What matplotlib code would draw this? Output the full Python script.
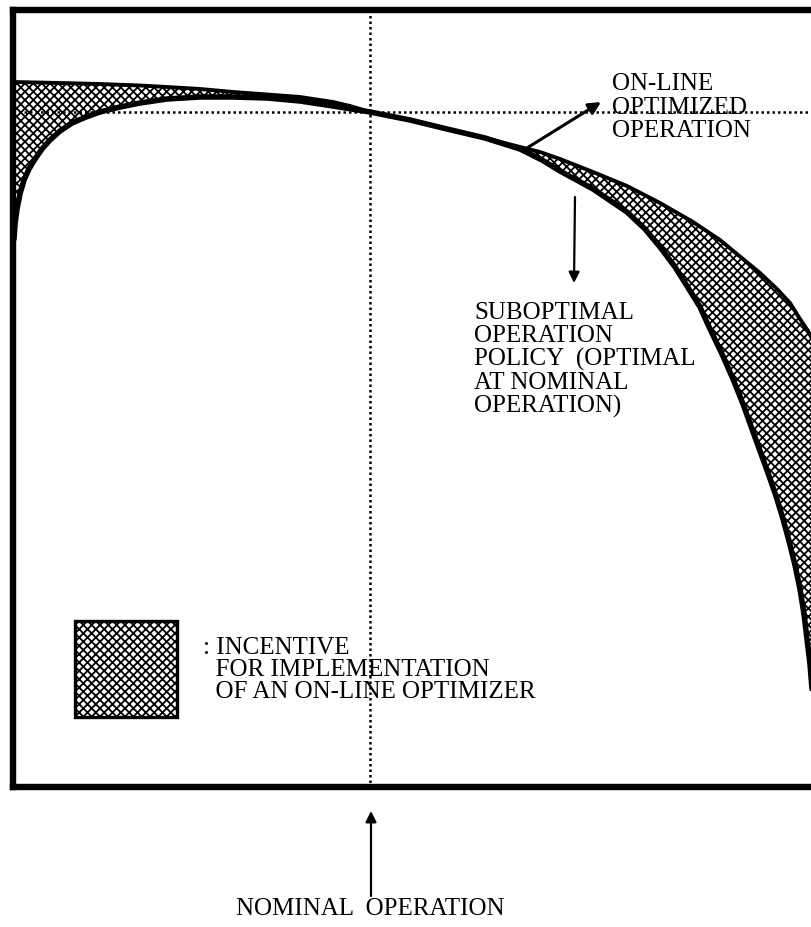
import matplotlib
matplotlib.use("Agg")
import matplotlib.pyplot as plt

plt.rcParams['font.family'] = ['Liberation Serif', 'DejaVu Serif']
plt.rcParams['hatch.linewidth'] = 1.3
plt.rcParams['hatch.color'] = 'black'

# ---- data (pixel-like coordinates, y grows downward) ----
optimized_x = [13, 60, 100, 140, 167, 200, 233, 267, 300, 333, 350, 370, 410, 447, 485,
               520, 540, 560, 593, 627, 660, 693, 720, 743, 760, 777, 790, 800, 808,
               815, 825, 835, 845, 852, 858, 862, 865]
optimized_y = [83, 84, 85, 86.5, 88, 90, 93, 95.5, 98, 103, 107, 113, 121, 130, 139,
               148, 153, 160, 173, 187, 204, 223, 241, 260, 274, 290, 304, 320, 332,
               345, 370, 400, 450, 520, 600, 700, 790]

suboptimal_x = [14, 15, 17, 20, 24, 29, 35, 42, 50, 60, 72, 86, 100, 120, 140, 167, 200,
                233, 267, 300, 333, 370, 410, 447, 485, 520, 542, 560, 593, 627, 645,
                660, 675, 687, 700, 710, 722, 733, 743, 752, 760, 768, 776, 783, 789,
                795, 800, 804, 807, 810, 812, 814]
suboptimal_y = [240, 225, 210, 195, 181, 170, 160, 150, 141, 132, 124, 118, 113, 108,
                104, 100, 98, 98, 99, 102, 107, 113, 121, 130, 139, 150, 161, 172, 190,
                213, 230, 248, 268, 287, 308, 330, 355, 380, 405, 430, 452, 474, 497,
                520, 542, 566, 590, 615, 640, 665, 690, 740]

nominal_x = 370          # nominal operation (vertical dotted line)
optimum_level = 113      # on-line optimized level (horizontal dotted line)

label_online = ["ON-LINE", "OPTIMIZED", "OPERATION"]
label_subopt = ["SUBOPTIMAL", "OPERATION", "POLICY  (OPTIMAL", "AT NOMINAL", "OPERATION)"]
label_legend = [": INCENTIVE", "  FOR IMPLEMENTATION", "  OF AN ON-LINE OPTIMIZER"]
label_nominal = "NOMINAL  OPERATION"

# ---- figure ----
W, H = 812, 928
fig = plt.figure(figsize=(W / 100, H / 100), dpi=100)
x0, x1, y0, y1 = 13, 870, 11, 788
ax = fig.add_axes([x0 / W, (H - y1) / H, (x1 - x0) / W, (y1 - y0) / H])
ax.set_xlim(x0, x1)
ax.set_ylim(y1, y0)
ax.set_xticks([])
ax.set_yticks([])
for s in ['top', 'left', 'bottom']:
    ax.spines[s].set_linewidth(4.6)
    ax.spines[s].set_color('black')
ax.spines['right'].set_visible(False)

# hatched incentive region between the two curves (closed along the left frame)
poly_x = [x0] + optimized_x + suboptimal_x[::-1] + [x0]
poly_y = [optimized_y[0]] + optimized_y + suboptimal_y[::-1] + [suboptimal_y[0]]
ax.fill(poly_x, poly_y, facecolor='white', edgecolor='black', linewidth=0,
        hatch='xxxx', zorder=1)

# dotted reference lines
ax.plot([x0, x1], [optimum_level, optimum_level], color='black', lw=1.8,
        linestyle=(0, (1, 1.2)), zorder=3)
ax.plot([nominal_x, nominal_x], [y0, y1], color='black', lw=1.8,
        linestyle=(0, (1, 1.2)), zorder=3)

# curves
ax.plot(optimized_x, optimized_y, color='black', lw=2.8, solid_joinstyle='round',
        solid_capstyle='round', zorder=4)
ax.plot(suboptimal_x, suboptimal_y, color='black', lw=4.0, solid_joinstyle='round',
        solid_capstyle='round', zorder=4)

fs = 18
# on-line optimized label + arrow
for i, t in enumerate(label_online):
    ax.text(612, 84 + i * 23.5, t, fontsize=fs, ha='left', va='center', zorder=5)
ax.annotate('', xy=(601, 103), xytext=(527, 149),
            arrowprops=dict(arrowstyle='-|>', color='black', lw=2.2,
                            mutation_scale=18, shrinkA=0, shrinkB=0), zorder=5)

# suboptimal label + arrow
for i, t in enumerate(label_subopt):
    ax.text(474, 313 + i * 23.3, t, fontsize=fs, ha='left', va='center', zorder=5)
ax.annotate('', xy=(574, 284), xytext=(575, 198),
            arrowprops=dict(arrowstyle='-|>', color='black', lw=1.6,
                            mutation_scale=16, shrinkA=0, shrinkB=0), zorder=5)

# legend swatch
rect = plt.Rectangle((75, 622), 102, 96, facecolor='white', edgecolor='black',
                     lw=2.4, hatch='xxxx', zorder=5)
ax.add_patch(rect)
for i, t in enumerate(label_legend):
    ax.text(203, 648 + i * 22, t, fontsize=fs, ha='left', va='center', zorder=5)

# nominal operation label + arrow (below the frame)
ax.annotate('', xy=(371, 812), xytext=(371, 897), annotation_clip=False,
            arrowprops=dict(arrowstyle='-|>', color='black', lw=1.6,
                            mutation_scale=16, shrinkA=0, shrinkB=0))
ax.text(370, 909, label_nominal, fontsize=fs, ha='center', va='center', clip_on=False)

fig.savefig('out.png', dpi=100, facecolor='white')
